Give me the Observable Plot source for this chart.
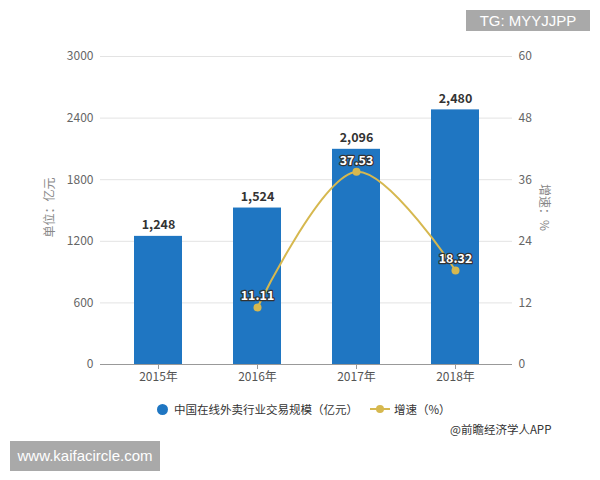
<!DOCTYPE html>
<html><head><meta charset="utf-8">
<script src="https://cdn.jsdelivr.net/npm/d3@7"></script>
<script src="https://cdn.jsdelivr.net/npm/@observablehq/plot@0.6"></script>
<style>
body{margin:0;background:#fff;font-family:"Noto Sans CJK SC","Noto Sans",sans-serif;}
#wrap{position:relative;width:600px;height:480px;overflow:hidden;}
#chart{position:absolute;left:0;top:0;}
.wm{position:absolute;background:#a9a9a9;color:#fff;font-family:"Liberation Sans",Arial,sans-serif;}
.leg{position:absolute;font-size:11.5px;color:#333;white-space:nowrap;}
</style></head>
<body><div id="wrap"><div id="chart"></div>
<div class="leg" style="left:157px;top:401px;"><span style="display:inline-block;width:11px;height:11px;border-radius:50%;background:#1f76c2;vertical-align:-1px;margin-right:6px;"></span>中国在线外卖行业交易规模（亿元）</div>
<div class="leg" style="left:370px;top:401px;"><svg width="20" height="10" style="vertical-align:0px;margin-right:4px;"><line x1="0" y1="5" x2="20" y2="5" stroke="#d6b84f" stroke-width="2"/><circle cx="10" cy="5" r="4" fill="#d6b84f"/></svg>增速（%）</div>
<div class="leg" style="left:450px;top:421px;font-size:11.5px;">@前瞻经济学人APP</div>
<div class="wm" style="left:466px;top:10px;width:124px;height:21px;font-size:15px;line-height:21px;text-align:center;">TG: MYYJJPP</div>
<div class="wm" style="left:10px;top:441px;width:150px;height:30px;font-size:15px;line-height:30px;text-align:center;">www.kaifacircle.com</div>
</div>
<script>
const years = ["2015年","2016年","2017年","2018年"];
const scale = [1248,1524,2096,2480];
const growthYears = ["2016年","2017年","2018年"];
const growth = [11.11,37.53,18.32];
const leftTicks = [0,600,1200,1800,2400,3000];
const rightTicks = [0,12,24,36,48,60];

const bars = years.map((y,i)=>({year:y, value:scale[i]}));
const pts = growthYears.map((y,i)=>({year:y, g:growth[i]}));
const k = 3000/60;
const blue = "#1f76c2", gold = "#d6b84f";

const plot = Plot.plot({
  width:600, height:390,
  marginTop:56, marginBottom:26, marginLeft:107, marginRight:95,
  style:{fontFamily:'"Noto Sans CJK SC","Noto Sans",sans-serif', fontSize:"12px", color:"#666", background:"transparent"},
  x:{domain:years, paddingInner:0.52, paddingOuter:0.26, label:null},
  y:{domain:[0,3000], label:null},
  marks:[
    Plot.ruleY(leftTicks.slice(1), {stroke:"#e3e3e3", insetLeft:-7, insetRight:-7}),
    Plot.barY(bars, {x:"year", y:"value", fill:blue}),
    Plot.ruleY([0], {stroke:"#999", insetLeft:-7, insetRight:-7}),
    Plot.axisX({tickSize:5, stroke:"#999", tickPadding:3, fill:"#555", fontSize:12}),
    Plot.axisY({ticks:leftTicks, tickFormat:d=>String(d), tickSize:0, tickPadding:14, fill:"#666", label:null}),
    Plot.axisY({anchor:"right", ticks:rightTicks.map(t=>t*k), tickFormat:d=>String(d/k), tickSize:0, tickPadding:13, fill:"#666", label:null}),
    Plot.text(["单位：亿元"], {frameAnchor:"left", dx:-57, dy:-3, rotate:-90, textAnchor:"middle", fill:"#888", fontSize:12}),
    Plot.text(["增速：%"], {frameAnchor:"right", dx:38, dy:-3, rotate:90, textAnchor:"middle", fill:"#888", fontSize:12}),
    Plot.text(bars, {x:"year", y:"value", text:d=>d3.format(",")(d.value), dy:-11, fill:"#333", fontWeight:"bold", fontSize:12.5}),
    Plot.line(pts, {x:"year", y:d=>d.g*k, stroke:gold, strokeWidth:2, curve:"catmull-rom"}),
    Plot.dot(pts, {x:"year", y:d=>d.g*k, r:4, fill:gold}),
    Plot.text(pts, {x:"year", y:d=>d.g*k, text:d=>d.g.toFixed(2), dy:-11, fill:"#fff", stroke:"#333", strokeWidth:2.5, fontWeight:"bold", fontSize:12.5})
  ]
});
document.getElementById("chart").appendChild(plot);
</script></body></html>
